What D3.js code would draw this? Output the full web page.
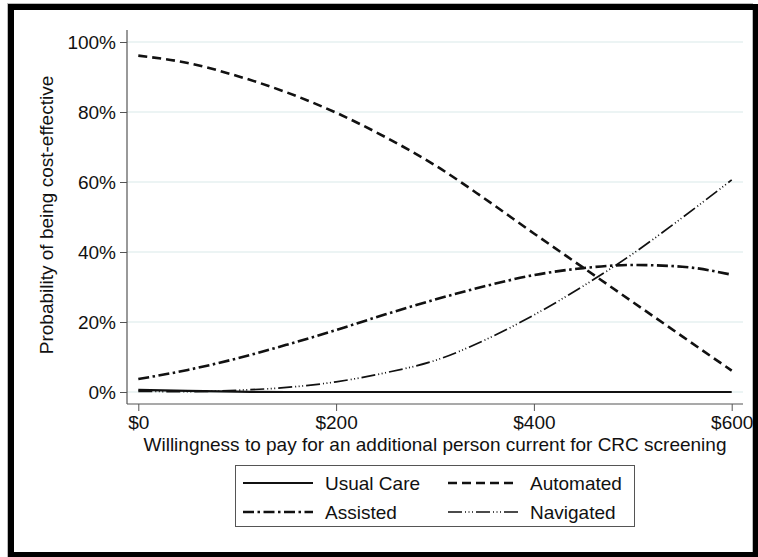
<!DOCTYPE html>
<html>
<head>
<meta charset="utf-8">
<script src="https://cdn.jsdelivr.net/npm/d3@7"></script>
<style>
  html, body { margin: 0; padding: 0; background: #fff; overflow: hidden; }
  svg { display: block; }
  text { font-family: "Liberation Sans", Arial, sans-serif; fill: #111; }
</style>
</head>
<body>
<svg id="chart" width="758" height="557"></svg>
<script>
// ---- data ----
const wtp = [0, 50, 100, 150, 200, 250, 300, 350, 400, 450, 500, 550, 600];
const usualCare = [0.006, 0.003, 0.001, 0, 0, 0, 0, 0, 0, 0, 0, 0, 0];
const automated = [0.961, 0.940, 0.903, 0.856, 0.798, 0.728, 0.648, 0.553, 0.453, 0.355, 0.257, 0.159, 0.061];
const assisted  = [0.037, 0.063, 0.096, 0.135, 0.177, 0.222, 0.264, 0.302, 0.334, 0.354, 0.363, 0.358, 0.335];
const navigated = [0.002, 0.001, 0.005, 0.013, 0.029, 0.055, 0.090, 0.148, 0.220, 0.303, 0.395, 0.498, 0.606];
const seriesNames = ["Usual Care", "Automated", "Assisted", "Navigated"];
const xTicks = [0, 200, 400, 600];
const yTicks = [0, 0.2, 0.4, 0.6, 0.8, 1.0];
const xTitle = "Willingness to pay for an additional person current for CRC screening";
const yTitle = "Probability of being cost-effective";

const series = [
  { name: seriesNames[0], values: usualCare, dash: null, width: 2.2 },
  { name: seriesNames[1], values: automated, dash: "9,5", width: 2.6 },
  { name: seriesNames[2], values: assisted, dash: "11,3.5,2.5,3.5", width: 2.6 },
  { name: seriesNames[3], values: navigated, dash: "14,3,1,2.5,1,2.5,1,3", width: 1.7 }
];

const svg = d3.select("#chart");
const FS = 19;

// outer frame
svg.append("rect").attr("x", 7.5).attr("y", 3.5).attr("width", 745).attr("height", 560)
  .attr("fill", "none").attr("stroke", "#bbb").attr("stroke-width", 1);
svg.append("rect").attr("x", 11).attr("y", 7).attr("width", 745).attr("height", 548)
  .attr("fill", "none").attr("stroke", "#000").attr("stroke-width", 6);

const x = d3.scaleLinear().domain([0, 600]).range([138.3, 731.7]);
const y = d3.scaleLinear().domain([0, 1]).range([392, 42]);
const plotLeft = 127, plotRight = 743, axisY = 404, axisTop = 30;

// gridlines
svg.append("g").selectAll("line").data(yTicks).join("line")
  .attr("x1", plotLeft).attr("x2", plotRight)
  .attr("y1", d => y(d)).attr("y2", d => y(d))
  .attr("stroke", "#e6f0f1").attr("stroke-width", 1.5);

// y axis
const yAxis = svg.append("g").attr("transform", `translate(${plotLeft},0)`)
  .call(d3.axisLeft(y).tickValues(yTicks).tickSize(7).tickPadding(4)
    .tickFormat(d => Math.round(d * 100) + "%"));
yAxis.select(".domain").remove();
yAxis.selectAll("line").attr("stroke", "#555");
yAxis.selectAll("text").attr("font-size", FS).style("font-family", "Liberation Sans, Arial, sans-serif").attr("fill", "#111");
svg.append("line").attr("x1", plotLeft).attr("x2", plotLeft).attr("y1", axisTop).attr("y2", axisY)
  .attr("stroke", "#555").attr("stroke-width", 1.2);

// x axis
const xAxis = svg.append("g").attr("transform", `translate(0,${axisY})`)
  .call(d3.axisBottom(x).tickValues(xTicks).tickSize(7).tickPadding(5)
    .tickFormat(d => "$" + d));
xAxis.select(".domain").remove();
xAxis.selectAll("line").attr("stroke", "#555");
xAxis.selectAll("text").attr("font-size", FS).style("font-family", "Liberation Sans, Arial, sans-serif").attr("fill", "#111");
svg.append("line").attr("x1", plotLeft).attr("x2", plotRight).attr("y1", axisY).attr("y2", axisY)
  .attr("stroke", "#555").attr("stroke-width", 1.2);

// titles
svg.append("text").attr("x", 435).attr("y", 450.5).attr("text-anchor", "middle")
  .attr("font-size", FS).text(xTitle);
svg.append("text").attr("transform", "translate(53,215) rotate(-90)").attr("text-anchor", "middle")
  .attr("font-size", FS).text(yTitle);

// lines
const line = d3.line().x((d, i) => x(wtp[i])).y(d => y(d)).curve(d3.curveMonotoneX);
svg.append("g").selectAll("path").data(series).join("path")
  .attr("d", d => line(d.values))
  .attr("fill", "none").attr("stroke", "#111")
  .attr("stroke-width", d => d.width)
  .attr("stroke-dasharray", d => d.dash);

// legend
const lg = svg.append("g");
lg.append("rect").attr("x", 235.5).attr("y", 465.5).attr("width", 399).attr("height", 61)
  .attr("fill", "#fff").attr("stroke", "#555").attr("stroke-width", 1);
const legendPos = [
  { lx: 243, ly: 483, tx: 325 },
  { lx: 448, ly: 483, tx: 530 },
  { lx: 243, ly: 512, tx: 325 },
  { lx: 448, ly: 512, tx: 530 }
];
series.forEach((s, i) => {
  const p = legendPos[i];
  lg.append("line").attr("x1", p.lx).attr("x2", p.lx + 70).attr("y1", p.ly).attr("y2", p.ly)
    .attr("stroke", "#111").attr("stroke-width", s.width).attr("stroke-dasharray", s.dash);
  lg.append("text").attr("x", p.tx).attr("y", p.ly + 6.5).attr("font-size", FS).text(s.name);
});
</script>
</body>
</html>
